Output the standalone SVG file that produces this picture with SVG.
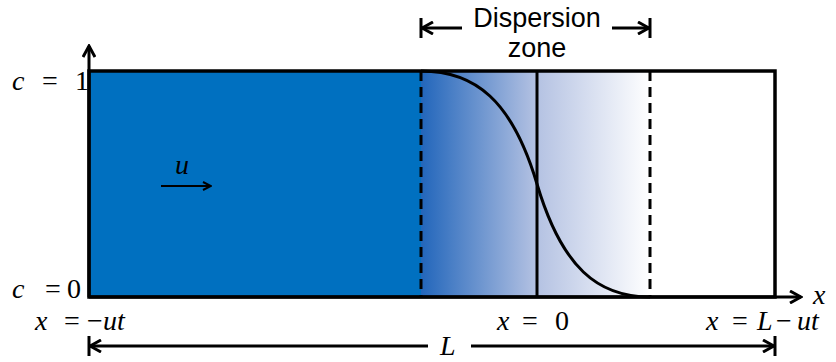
<svg xmlns="http://www.w3.org/2000/svg" width="836" height="362" viewBox="0 0 836 362">
<defs>
<linearGradient id="g" x1="421" y1="0" x2="650" y2="0" gradientUnits="userSpaceOnUse">
<stop offset="0" stop-color="#2266BB"/>
<stop offset="0.5" stop-color="#B3C1E2"/>
<stop offset="1" stop-color="#FFFFFF"/>
</linearGradient>
<marker id="ah" viewBox="0 0 10 10" refX="9" refY="5" markerWidth="10" markerHeight="10" markerUnits="userSpaceOnUse" orient="auto">
<path d="M1,1 L9,5 L1,9" fill="none" stroke="#000" stroke-width="2"/>
</marker>
<marker id="ahb" viewBox="0 0 14 14" refX="12" refY="7" markerWidth="14" markerHeight="14" markerUnits="userSpaceOnUse" orient="auto">
<path d="M1,1 L12,7 L1,13" fill="none" stroke="#000" stroke-width="3"/>
</marker>
</defs>
<style>
.ln{stroke:#000;fill:none;stroke-width:3}
.m{font-family:"Liberation Serif",serif;font-size:28px;fill:#000}
.i{font-style:italic}
.s{font-family:"Liberation Sans",Arial,sans-serif;font-size:27px;fill:#000;text-anchor:middle}
</style>
<g id="regions">
<rect x="89" y="71" width="332" height="226" fill="#0070C0"/>
<rect x="421" y="71" width="229" height="226" fill="url(#g)"/>
</g>
<g id="box">
<rect x="89" y="71" width="686" height="226" fill="none" stroke="#000" stroke-width="3.5"/>
<line x1="421" y1="71" x2="421" y2="297" class="ln" stroke-dasharray="10,6"/>
<line x1="650" y1="71" x2="650" y2="297" class="ln" stroke-dasharray="10,6"/>
<line x1="537" y1="71" x2="537" y2="297" class="ln"/>
<path d="M421,71 C475,71 512,100 537,184 C562,268 598,297 650,297" class="ln" stroke-width="3.2"/>
</g>
<g id="connectors">
<line x1="89" y1="297" x2="89" y2="46" class="ln" marker-end="url(#ahb)"/>
<line x1="89" y1="297" x2="801" y2="297" class="ln" marker-end="url(#ahb)"/>
<line x1="161" y1="186" x2="211" y2="186" stroke="#000" stroke-width="2" marker-end="url(#ah)"/>
<line x1="462" y1="28" x2="422" y2="28" class="ln" stroke-width="3.5" marker-end="url(#ahb)"/>
<line x1="421" y1="18" x2="421" y2="38" class="ln" stroke-width="3.5"/>
<line x1="612" y1="28" x2="649" y2="28" class="ln" stroke-width="3.5" marker-end="url(#ahb)"/>
<line x1="650" y1="18" x2="650" y2="38" class="ln" stroke-width="3.5"/>
<line x1="428" y1="346" x2="90" y2="346" class="ln" marker-end="url(#ahb)"/>
<line x1="471" y1="346" x2="774" y2="346" class="ln" marker-end="url(#ahb)"/>
<line x1="775" y1="336" x2="775" y2="356" class="ln"/>
<line x1="89" y1="336" x2="89" y2="356" class="ln"/>
</g>
<g id="labels">
<text x="537" y="27" class="s">Dispersion</text>
<text x="537" y="57" class="s">zone</text>
<text y="90" class="m"><tspan x="12" class="i">c</tspan><tspan x="42">=</tspan><tspan x="75">1</tspan></text>
<text y="298" class="m"><tspan x="12" class="i">c</tspan><tspan x="45">=</tspan><tspan x="67">0</tspan></text>
<text y="330" class="m"><tspan x="35" class="i">x</tspan><tspan x="64">=</tspan><tspan x="87">−</tspan><tspan x="103" class="i">ut</tspan></text>
<text y="330" class="m"><tspan x="497" class="i">x</tspan><tspan x="522">=</tspan><tspan x="555">0</tspan></text>
<text y="330" class="m"><tspan x="706" class="i">x</tspan><tspan x="732">=</tspan><tspan x="757" class="i">L</tspan><tspan x="776">−</tspan><tspan x="797" class="i">ut</tspan></text>
<text x="813" y="304" class="m i">x</text>
<text x="440" y="355" class="m i">L</text>
<text x="175" y="174" class="m i">u</text>
</g>
</svg>
